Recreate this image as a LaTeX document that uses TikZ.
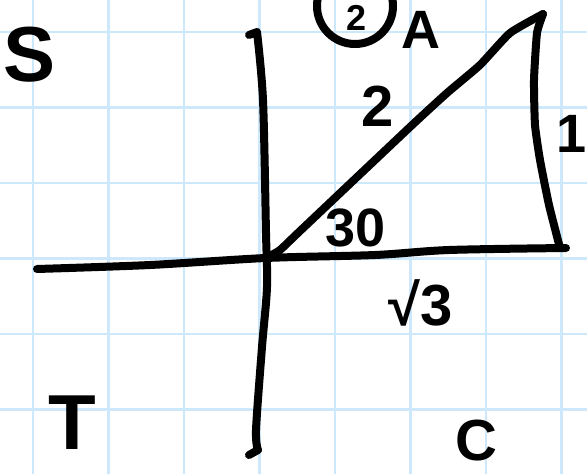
\documentclass[tikz,border=0pt]{standalone}
\usepackage{fontspec}
\setmainfont{Liberation Sans}
\usetikzlibrary{positioning}
\usetikzlibrary{calc}

\definecolor{gridblue}{RGB}{204,232,250}
\tikzset{
    ink/.style={line width=8pt, line cap=round, line join=round},
    gridline/.style={draw=gridblue, line width=2.5pt},
    hand/.style={font=\fontsize{#1}{#1}\selectfont\bfseries, inner sep=0pt},
}

\begin{document}
\begin{tikzpicture}[x=1pt, y=-1pt]
    \useasboundingbox (0,0) rectangle (587,474);
    \clip (0,0) rectangle (587,474);
    \fill[white] (0,0) rectangle (587,474);

    % squared paper
    \foreach \i in {0,...,7} {
        \draw[gridline] (33+75.5*\i,0) -- (33+75.5*\i,474);
    }
    \foreach \j in {0,...,6} {
        \draw[gridline] (0,32+75.5*\j) -- (587,32+75.5*\j);
    }

    \coordinate (o) at (266,258);
    \coordinate (a) at (543,14);
    \coordinate (b) at (560,248);
    \coordinate (xl) at (37,269);
    \coordinate (xr) at (566,248);
    \coordinate (yt) at (257,32);
    \coordinate (yb) at (258,450);
    \coordinate (ringc) at (355,6);

    % axes
    \draw[ink] (249,35) -- (yt) plot[smooth, tension=0.5] coordinates {(yt) (263,100) (266,233) (267,287) (262,347) (256,430) (yb)} -- (249,455);
    \draw[ink] plot[smooth, tension=0.5] coordinates {(xl) (150,265) (o) (375,255) (449,250) (xr)};

    % triangle
    \draw[ink] plot[smooth, tension=0.3] coordinates {(o) (280,250) (300,231) (410,127) (447,93) (480,65) (510,33) (a)};
    \draw[ink] plot[smooth, tension=0.3] coordinates {(a) (537,33) (534,80) (535,125) (540,160) (549,205) (b)};

    % labels
    \node[hand=78] (quadS) at (30,55) {S};
    \node[hand=78] (quadT) at (72,423) {T};
    \node[hand=58] (quadC) at (476,441) {C};
    \node[hand=54] (quadA) at (421,30) {A};
    \draw[ink] (ringc) circle (38);
    \node[hand=36, anchor=north] (ringnum) at (357,5) {2};
    \node[hand=58] (hyp) at (378,106) {2};
    \node[hand=54, anchor=east] (opp) at (587,134) {1};
    \node[hand=54] (angle) at (356,228) {30};
    \node[hand=58] (adj) at (421,303) {√3};
\end{tikzpicture}
\end{document}
